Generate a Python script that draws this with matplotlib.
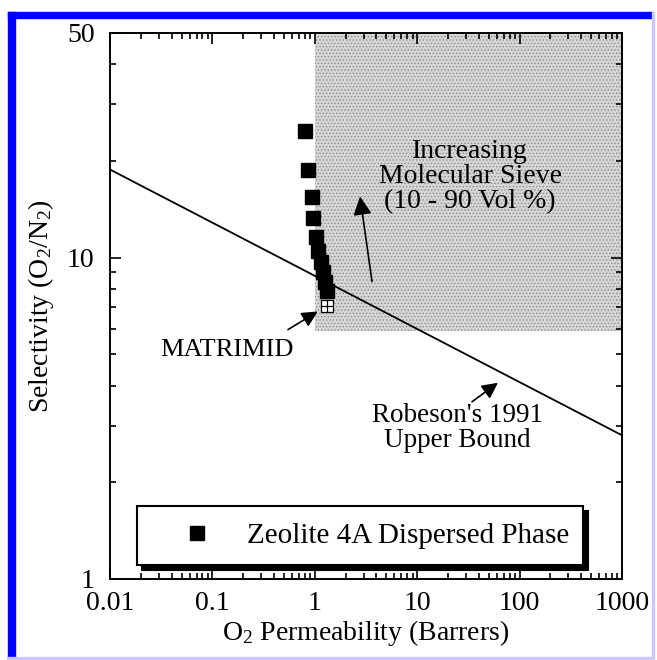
import numpy as np
import matplotlib
matplotlib.use('Agg')
import matplotlib.pyplot as plt
from matplotlib.patches import Rectangle
from matplotlib.ticker import LogLocator, NullFormatter

plt.rcParams['font.family'] = ['Liberation Serif', 'DejaVu Serif']
plt.rcParams['mathtext.fontset'] = 'custom'
plt.rcParams['mathtext.rm'] = 'Liberation Serif'
plt.rcParams['mathtext.it'] = 'Liberation Serif:italic'
plt.rcParams['hatch.color'] = '#8a8a8a'
plt.rcParams['hatch.linewidth'] = 0.6

# dados
zeolite_perm = [0.80, 0.86, 0.94, 0.96, 1.03, 1.07, 1.15, 1.20, 1.26, 1.32]
zeolite_sel = [24.7, 18.8, 15.4, 13.3, 11.6, 10.5, 9.66, 9.0, 8.37, 7.85]

matrimid_perm = [1.32]
matrimid_sel = [7.05]

robeson_perm = [0.01, 1000]
robeson_sel = [18.8, 2.8]

regiao_perm = [1, 1000]
regiao_sel_min = [5.9, 5.9]
regiao_sel_max = [50, 50]

xticks = [0.01, 0.1, 1, 10, 100, 1000]
xticklabels = ['0.01', '0.1', '1', '10', '100', '1000']
yticks = [1, 10, 50]
yticklabels = ['1', '10', '50']

fig = plt.figure(figsize=(6.57, 6.60), dpi=100)
ax = fig.add_axes([110/657, 1-579/660, 512/657, 546/660])

# regiao pontilhada
ax.fill_between(regiao_perm, regiao_sel_min, regiao_sel_max, facecolor='#d6d6d6',
                edgecolor='none', hatch='.....', linewidth=0, zorder=1)

# limite de Robeson
ax.plot(robeson_perm, robeson_sel, color='black', lw=1.3, zorder=2)

ax.plot(zeolite_perm, zeolite_sel, ls='none', marker='s', ms=10.5, color='black',
        label='Zeolite 4A Dispersed Phase', zorder=3)
ax.plot(matrimid_perm, matrimid_sel, ls='none', marker='s', ms=9, mfc='white',
        mec='black', mew=0.9, zorder=4)
ax.plot(matrimid_perm, matrimid_sel, ls='none', marker='+', ms=9, color='black',
        mew=0.9, zorder=5)

ax.set_xscale('log')
ax.set_yscale('log')
ax.set_xlim(0.01, 1000)
ax.set_ylim(1, 50)
ax.set_xticks(xticks)
ax.set_xticklabels(xticklabels)
ax.set_yticks(yticks)
ax.set_yticklabels(yticklabels)
ax.xaxis.set_minor_locator(LogLocator(base=10, subs=np.arange(2, 10)))
ax.yaxis.set_minor_locator(LogLocator(base=10, subs=np.arange(2, 10)))
ax.xaxis.set_minor_formatter(NullFormatter())
ax.yaxis.set_minor_formatter(NullFormatter())
ax.tick_params(which='both', direction='in', top=True, right=True, width=1.2,
               labelsize=20)
ax.tick_params(which='major', length=8, pad=9)
ax.tick_params(axis='y', which='major', pad=11)
ax.tick_params(which='minor', length=4)
for s in ax.spines.values():
    s.set_linewidth(1.4)

ax.set_xlabel('O$_2$ Permeability (Barrers)', fontsize=20, labelpad=1)
ax.set_ylabel('Selectivity (O$_2$/N$_2$)', fontsize=20, labelpad=8)

# anotacoes
ax.text(32.8, 17.9, 'Increasing\nMolecular Sieve\n(10 - 90 Vol %)', ha='center',
        va='center', fontsize=20, linespacing=1.0, zorder=6)
ax.annotate('', xy=(2.76, 15.5), xytext=(3.62, 8.43),
            arrowprops=dict(arrowstyle='-|>', color='black', lw=1.2,
                            mutation_scale=28, shrinkA=0, shrinkB=0), zorder=6)
ax.text(0.139, 5.17, 'MATRIMID', ha='center', va='center', fontsize=19, zorder=6)
ax.annotate('', xy=(1.07, 6.8), xytext=(0.547, 5.97),
            arrowprops=dict(arrowstyle='-|>', color='black', lw=1.2,
                            mutation_scale=24, shrinkA=0, shrinkB=0), zorder=6)
ax.text(24.5, 2.96, "Robeson's 1991\nUpper Bound", ha='center', va='center',
        fontsize=19.5, linespacing=1.0, zorder=6)
ax.annotate('', xy=(61.5, 4.08), xytext=(34.3, 3.56),
            arrowprops=dict(arrowstyle='-|>', color='black', lw=1.2,
                            mutation_scale=24, shrinkA=0, shrinkB=0), zorder=6)

leg = ax.legend(loc='lower left', bbox_to_anchor=(0.053, 0.026, 0.871, 0.11),
                mode='expand', fontsize=21, frameon=True, fancybox=False,
                shadow={'color': 'black', 'alpha': 1, 'ox': 3.5, 'oy': -3.5},
                handlelength=3.0, handletextpad=0.2, borderpad=0.55,
                borderaxespad=0, markerscale=1.0)
leg.get_frame().set_edgecolor('black')
leg.get_frame().set_linewidth(1.5)
leg.get_frame().set_alpha(1)

# moldura azul
fig.patches.append(Rectangle((8/657, 0), 7/657, 1-12/660, transform=fig.transFigure,
                             color='#0000ff', zorder=0))
fig.patches.append(Rectangle((8/657, 1-18/660), 645/657, 6/660, transform=fig.transFigure,
                             color='#0000ff', zorder=0))
fig.patches.append(Rectangle((652/657, 0), 2/657, 1-12/660, transform=fig.transFigure,
                             color='#c8c8ff', zorder=0))
fig.patches.append(Rectangle((8/657, 1/660), 645/657, 2/660, transform=fig.transFigure,
                             color='#c8c8ff', zorder=0))

fig.savefig('out.png', dpi=100)
